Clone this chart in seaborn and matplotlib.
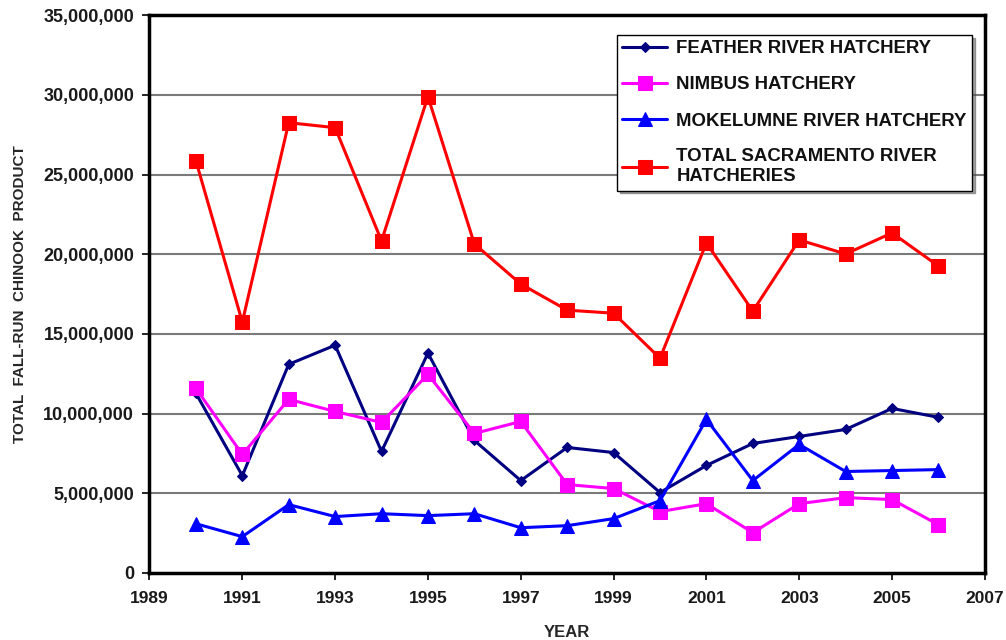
import matplotlib
matplotlib.use('Agg')
import matplotlib.pyplot as plt
import numpy as np
import seaborn as sns
from matplotlib.ticker import MultipleLocator, FuncFormatter

sns.set_style('white')
plt.rcParams['font.family'] = ['Liberation Sans', 'DejaVu Sans']
plt.rcParams['font.weight'] = 'bold'

years = np.arange(1990, 2007)
feather = [11.27, 6.10, 13.09, 14.29, 7.62, 13.79, 8.31, 5.79, 7.87, 7.55,
           5.04, 6.74, 8.12, 8.56, 9.00, 10.32, 9.76]
nimbus = [11.58, 7.43, 10.89, 10.13, 9.44, 12.46, 8.75, 9.50, 5.54, 5.29,
          3.84, 4.34, 2.52, 4.34, 4.72, 4.60, 3.02]
mokelumne = [3.08, 2.27, 4.28, 3.53, 3.71, 3.59, 3.71, 2.83, 2.96, 3.40,
             4.53, 9.63, 5.79, 8.06, 6.36, 6.42, 6.48]
total = [25.87, 15.74, 28.26, 27.95, 20.84, 29.90, 20.65, 18.13, 16.49, 16.30,
         13.47, 20.71, 16.43, 20.90, 20.02, 21.34, 19.26]
xticks = np.arange(1989, 2008, 2)
# values above are in millions
feather = np.array(feather) * 1e6
nimbus = np.array(nimbus) * 1e6
mokelumne = np.array(mokelumne) * 1e6
total = np.array(total) * 1e6

fig = plt.figure(figsize=(10.06, 6.4), dpi=100)
ax = fig.add_axes([0.1486, 0.105, 0.979 - 0.1486, 0.976 - 0.105])

ax.yaxis.grid(True, color='#7a7a7a', linewidth=1.5)
ax.set_axisbelow(True)

sns.lineplot(x=years, y=feather, ax=ax, color='#000080', marker='D', markersize=5,
             markeredgecolor='#000080', linewidth=2.2, label='FEATHER RIVER HATCHERY')
sns.lineplot(x=years, y=nimbus, ax=ax, color='#FF00FF', marker='s', markersize=10,
             markeredgecolor='#FF00FF', linewidth=2.2, label='NIMBUS HATCHERY')
sns.lineplot(x=years, y=mokelumne, ax=ax, color='#0000FF', marker='^', markersize=10,
             markeredgecolor='#0000FF', linewidth=2.2, label='MOKELUMNE RIVER HATCHERY')
sns.lineplot(x=years, y=total, ax=ax, color='#FF0000', marker='s', markersize=10,
             markeredgecolor='#FF0000', linewidth=2.2,
             label='TOTAL SACRAMENTO RIVER\nHATCHERIES')

ax.set_xlim(1989, 2007)
ax.set_ylim(0, 35000000)
ax.set_xticks(xticks)
ax.yaxis.set_major_locator(MultipleLocator(5000000))
ax.yaxis.set_major_formatter(FuncFormatter(lambda v, p: '{:,.0f}'.format(v)))
ax.tick_params(axis='both', direction='out', length=5, width=1.2, colors='black',
               left=True, bottom=True)
ax.tick_params(axis='y', labelsize=13, pad=6)
ax.tick_params(axis='x', labelsize=12.5, pad=8)
for lab in ax.get_xticklabels() + ax.get_yticklabels():
    lab.set_fontweight('bold')
    lab.set_color('#1a1a1a')

for s in ax.spines.values():
    s.set_visible(True)
    s.set_color('black')
    s.set_linewidth(2.5)

ax.set_xlabel('YEAR', fontsize=12, fontweight='bold', labelpad=14)
ax.set_ylabel('TOTAL  FALL-RUN  CHINOOK  PRODUCT', fontsize=11, fontweight='bold',
              labelpad=12)

leg = ax.legend(loc='upper right', bbox_to_anchor=(0.985, 0.965), fontsize=13.4,
                frameon=True, fancybox=False, shadow=True, edgecolor='black',
                labelspacing=1.02, handlelength=2.4, handletextpad=0.5,
                borderpad=0.3, borderaxespad=0.0)
leg.get_frame().set_linewidth(1.0)
for t in leg.get_texts():
    t.set_fontweight('bold')
    t.set_color('#111111')

plt.savefig('out.png', dpi=100)
